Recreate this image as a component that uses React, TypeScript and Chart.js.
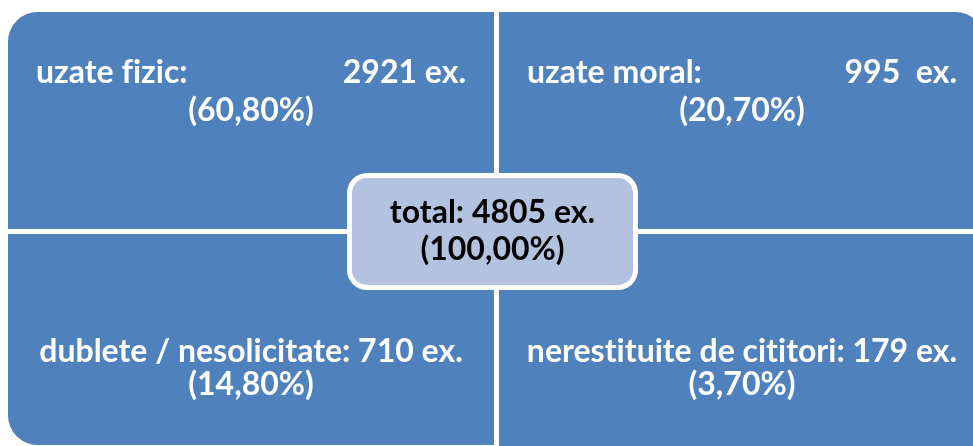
import React, { useEffect, useRef } from 'react';
import { Chart, registerables } from 'chart.js';

Chart.register(...registerables);

// ---- data ----
const categories = ['uzate fizic', 'uzate moral', 'dublete / nesolicitate', 'nerestituite de cititori'];
const counts = [2921, 995, 710, 179];
const unitLabels = [' ex.', '  ex.', ' ex.', ' ex.'];
const percentLabels = ['60,80%', '20,70%', '14,80%', '3,70%'];
const totalLabel = 'total';
const totalCount = 4805;
const totalPercent = '100,00%';
const columns = ['left', 'right'];

// ---- styles / layout ----
const BLUE = '#4F81BD';
const CENTER_FILL = '#B3C2DE';
const FONT = 'bold 32px Lato';
const GAP = 2.5; // half of white gap between tiles
const R = 32; // outer corner radius
const SPLIT = 216 / 438; // row split on the hidden y scale
const CANVAS_W = 1000;
const CANVAS_H = 470;

const centerPlugin = {
  id: 'smartText',
  afterDatasetsDraw(chart: any) {
    const ctx = chart.ctx;
    const xs = chart.scales.x;
    const ys = chart.scales.y;
    ctx.save();
    ctx.font = FONT;
    try { ctx.textRendering = 'optimizeSpeed'; } catch (e) {}
    try { ctx.letterSpacing = '0.01px'; } catch (e) {}
    ctx.textBaseline = 'alphabetic';
    ctx.fillStyle = '#FFFFFF';
    const pad = 28;
    categories.forEach((label, i) => {
      const row = i < 2 ? 0 : 1;
      const col = i % 2;
      const el = chart.getDatasetMeta(row).data[col];
      const { x, y, base, width } = el.getProps(['x', 'y', 'base', 'width'], true);
      const top = Math.min(y, base) + GAP;
      const left = x - width / 2 + GAP + pad;
      const right = x + width / 2 - GAP - pad;
      const cx = x;
      if (row === 0) {
        ctx.textAlign = 'left';
        ctx.fillText(label + ':', left, top + 71);
        ctx.textAlign = 'right';
        ctx.fillText(counts[i] + unitLabels[i], right, top + 71);
        ctx.textAlign = 'center';
        ctx.fillText('(' + percentLabels[i] + ')', cx, top + 109);
      } else {
        ctx.textAlign = 'center';
        ctx.fillText(label + ': ' + counts[i] + unitLabels[i], cx, top + 128);
        ctx.fillText('(' + percentLabels[i] + ')', cx, top + 161);
      }
    });

    // centre box
    const ccx = xs.getPixelForValue(0.5) - 4;
    const ccy = ys.getPixelForValue(SPLIT);
    const ow = 291, oh = 117;
    ctx.beginPath();
    ctx.roundRect(ccx - ow / 2, ccy - oh / 2, ow, oh, 20);
    ctx.fillStyle = '#FFFFFF';
    ctx.fill();
    ctx.beginPath();
    ctx.roundRect(ccx - ow / 2 + 5, ccy - oh / 2 + 5, ow - 10, oh - 10, 15);
    ctx.fillStyle = CENTER_FILL;
    ctx.fill();
    ctx.fillStyle = '#000000';
    ctx.textAlign = 'center';
    ctx.fillText(totalLabel + ': ' + totalCount + ' ex.', ccx, ccy - 8.5);
    ctx.fillText('(' + totalPercent + ')', ccx, ccy + 28.5);
    ctx.restore();
  },
};

export default function App() {
  const ref = useRef<HTMLCanvasElement | null>(null);
  useEffect(() => {
    document.body.style.margin = '0';
    document.body.style.overflow = 'hidden';
    const canvas = ref.current;
    if (!canvas) return;
    const corner = (row: number) => (c: any) => {
      const z = { topLeft: 0, topRight: 0, bottomLeft: 0, bottomRight: 0 };
      if (row === 0) {
        if (c.dataIndex === 0) z.topLeft = R; else z.topRight = R;
      } else {
        if (c.dataIndex === 0) z.bottomLeft = R; else z.bottomRight = R;
      }
      return z;
    };
    const chart = new Chart(canvas, {
      type: 'bar',
      data: {
        labels: columns,
        datasets: [
          {
            label: 'top',
            data: [[SPLIT, 1], [SPLIT, 1]] as any,
            backgroundColor: BLUE,
            borderColor: '#FFFFFF',
            borderWidth: GAP,
            borderSkipped: false,
            borderRadius: corner(0) as any,
            grouped: false,
            categoryPercentage: 1,
            barPercentage: 1,
            inflateAmount: 0,
          } as any,
          {
            label: 'bottom',
            data: [[0, SPLIT], [-0.05, SPLIT]] as any,
            backgroundColor: BLUE,
            borderColor: '#FFFFFF',
            borderWidth: GAP,
            borderSkipped: false,
            borderRadius: corner(1) as any,
            grouped: false,
            categoryPercentage: 1,
            barPercentage: 1,
            inflateAmount: 0,
          } as any,
        ],
      },
      options: {
        animation: false,
        responsive: false,
        devicePixelRatio: 1,
        events: [],
        layout: { padding: { left: 5.5, right: 12.5, top: 9.5, bottom: 22.5 } },
        plugins: { legend: { display: false }, tooltip: { enabled: false }, title: { display: false } },
        scales: {
          x: { display: false, offset: true },
          y: { display: false, min: 0, max: 1 },
        },
      },
      plugins: [centerPlugin],
    });
    return () => chart.destroy();
  }, []);
  return (
    <div style={{ width: 973, height: 446, overflow: 'hidden', position: 'relative', background: '#FFFFFF' }}>
      <canvas ref={ref} width={CANVAS_W} height={CANVAS_H} style={{ width: CANVAS_W, height: CANVAS_H, display: 'block' }} />
    </div>
  );
}
